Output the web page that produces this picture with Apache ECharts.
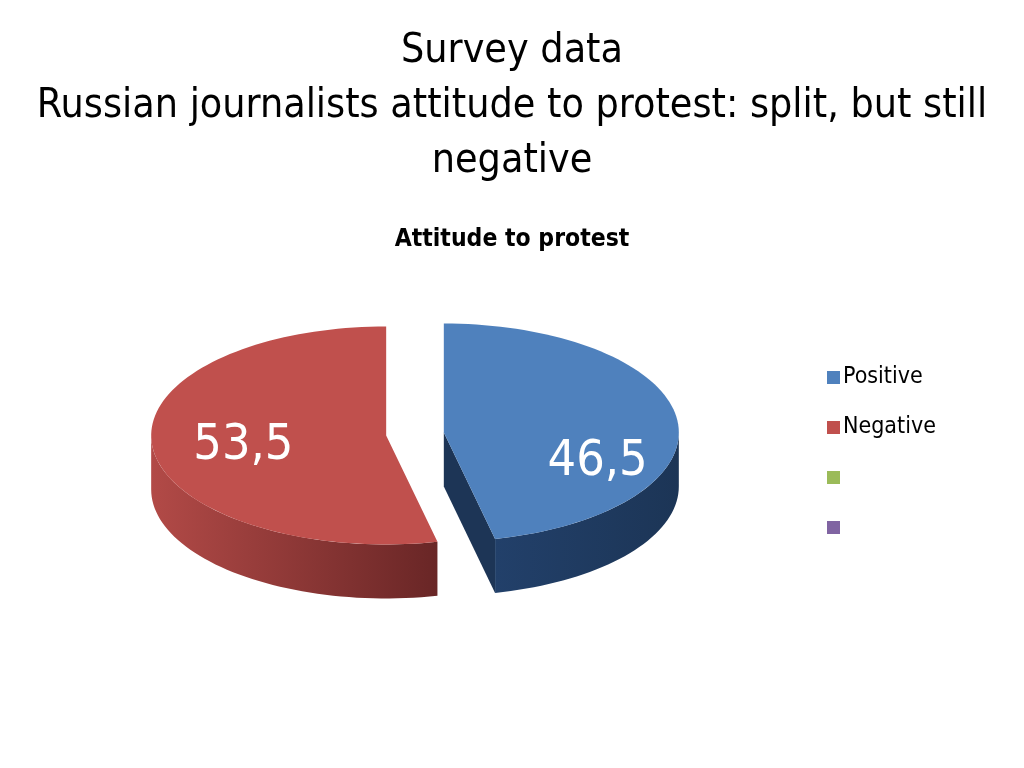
<!DOCTYPE html>
<html>
<head>
<meta charset="utf-8">
<script src="https://cdn.jsdelivr.net/npm/echarts@6/dist/echarts.min.js"></script>
<style>
html,body{margin:0;padding:0;background:#fff;}
#chart{width:1024px;height:768px;}
</style>
</head>
<body>
<div id="chart"></div>
<script>
// ---- data ----
const titleLines = ['Survey data', 'Russian journalists attitude to protest: split, but still', 'negative'];
const subTitle = 'Attitude to protest';
const categories = ['Positive', 'Negative', ' ', '  '];
const values = [46.5, 53.5, null, null];
const topColors = ['#4F81BD', '#C0504D', '#9BBB59', '#8064A2'];

// ---- layout / style ----
const FONT = "'Liberation Sans Narrow', 'DejaVu Sans Condensed', 'Liberation Sans', sans-serif";
const L = {
  cx: 415, cy: 434, rx: 235, ry: 109, depth: 54, explode: 29,
  labelFrac: 0.62,
  labelShift: [[9, 37], [2, 3], [0, 0], [0, 0]],
  wallFill: [
    ['#22406A', '#1C3556'],
    ['#B24A47', '#692626'],
    ['#7A9446', '#5C7034'],
    ['#654F82', '#4B3B61']
  ],
  cutFill: ['#1D3556', '#8A3634', '#6E8640', '#5A4674']
};

const total = values.reduce((a, v) => a + (v == null ? 0 : v), 0);
const rad = d => d * Math.PI / 180;

function makeRender(idx) {
  return function (params, api) {
    const v = api.value(0);
    let before = 0;
    for (let k = 0; k < idx; k++) before += (values[k] == null ? 0 : values[k]);
    const s = before / total * 360;
    const e = s + v / total * 360;
    const m = (s + e) / 2;
    const ax = L.cx + L.explode * Math.sin(rad(m));
    const ay = L.cy - L.explode * Math.cos(rad(m)) * L.ry / L.rx;
    const pt = (th, dz) => [ax + L.rx * Math.sin(rad(th)), ay - L.ry * Math.cos(rad(th)) + (dz || 0)];
    const arc = (a, b, dz) => {
      const n = Math.max(2, Math.ceil((b - a) / 2));
      const out = [];
      for (let j = 0; j <= n; j++) out.push(pt(a + (b - a) * j / n, dz));
      return out;
    };
    const children = [];
    // outer wall (front half only)
    const wa = Math.max(s, 90), wb = Math.min(e, 270);
    if (wb > wa) {
      const top = arc(wa, wb, 0);
      const bot = arc(wa, wb, L.depth).reverse();
      children.push({
        type: 'polygon',
        shape: { points: top.concat(bot) },
        style: {
          fill: new echarts.graphic.LinearGradient(0, 0, 1, 0, [
            { offset: 0, color: L.wallFill[idx][0] },
            { offset: 1, color: L.wallFill[idx][1] }
          ])
        }
      });
    }
    // cut faces
    const cutFace = th => {
      const p = pt(th, 0), q = pt(th, L.depth);
      children.push({
        type: 'polygon',
        shape: { points: [[ax, ay], p, q, [ax, ay + L.depth]] },
        style: { fill: L.cutFill[idx] }
      });
    };
    if (Math.sin(rad(s)) < -1e-6) cutFace(s);
    if (Math.sin(rad(e)) > 1e-6) cutFace(e);
    // top surface
    children.push({
      type: 'polygon',
      shape: { points: [[ax, ay]].concat(arc(s, e, 0)) },
      style: { fill: topColors[idx] }
    });
    // label
    const lx = ax + L.rx * L.labelFrac * Math.sin(rad(m)) + L.labelShift[idx][0];
    const ly = ay - L.ry * L.labelFrac * Math.cos(rad(m)) + L.labelShift[idx][1];
    children.push({
      type: 'text',
      style: {
        text: v.toFixed(1).replace('.', ','),
        x: lx, y: ly,
        fill: '#FFFFFF',
        fontSize: 50,
        fontFamily: FONT,
        align: 'center',
        verticalAlign: 'middle'
      }
    });
    return { type: 'group', children: children };
  };
}

const series = categories.map((name, i) => ({
  type: 'custom',
  name: name,
  coordinateSystem: 'none',
  itemStyle: { color: topColors[i] },
  data: values[i] == null ? [] : [[values[i]]],
  renderItem: makeRender(i)
}));

const chart = echarts.init(document.getElementById('chart'));
chart.setOption({
  animation: false,
  backgroundColor: '#FFFFFF',
  title: [
    {
      text: titleLines.join('\n'),
      left: 512,
      top: 24,
      padding: 0,
      textAlign: 'center',
      textStyle: { fontFamily: FONT, fontSize: 40.8, fontWeight: 'normal', color: '#000', lineHeight: 55, align: 'center' }
    },
    {
      text: subTitle,
      left: 512,
      top: 227,
      padding: 0,
      textAlign: 'center',
      textStyle: { fontFamily: FONT, fontSize: 24.5, fontWeight: 'bold', color: '#000' }
    }
  ],
  legend: {
    orient: 'vertical',
    left: 822,
    top: 361,
    icon: 'rect',
    itemWidth: 13,
    itemHeight: 13,
    itemGap: 27,
    selectedMode: false,
    textStyle: { fontFamily: FONT, fontSize: 23, color: '#000', padding: [0, 0, 0, -2] },
    data: categories.map((n, i) => ({ name: n, itemStyle: { color: topColors[i] } }))
  },
  series: series
});
</script>
</body>
</html>
